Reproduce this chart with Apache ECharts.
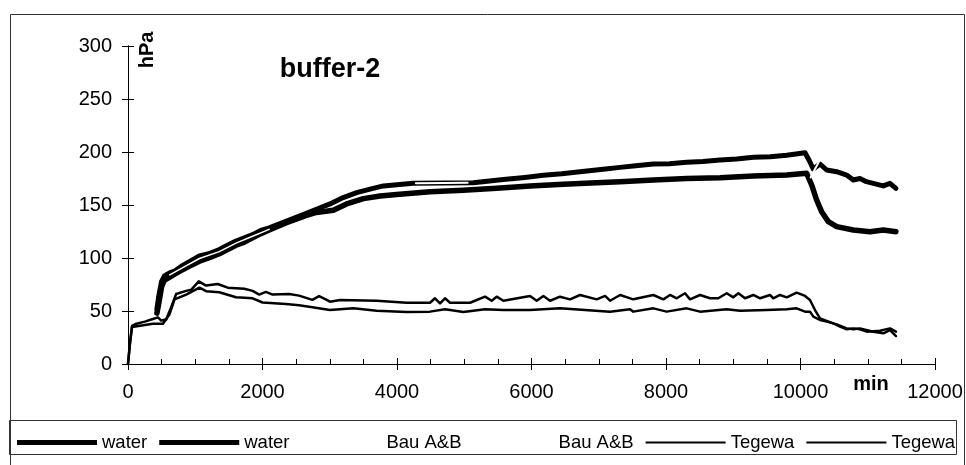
<!DOCTYPE html>
<html>
<head>
<meta charset="utf-8"/>
<title>buffer-2</title>
<script src="https://cdn.jsdelivr.net/npm/echarts@6/dist/echarts.min.js"></script>
<style>
  html, body { margin: 0; padding: 0; background: #fff; }
  #chart { width: 966px; height: 465px; }
</style>
</head>
<body>
<div id="chart"></div>
<script>
// axis ticks
var xTicks = [0, 2000, 4000, 6000, 8000, 10000, 12000];
var yTicks = [0, 50, 100, 150, 200, 250, 300];

// series values: [min, hPa]
var water1 = [[430,52],[460,65],[500,78],[540,83],[620,86],[700,88],[815,93],[900,96],[1062,102],[1200,104],[1358,108],[1480,112],[1606,116],[1730,119],[1853,122],[1975,126],[2100,128.5],[2347,134.5],[2643,142],[2940,149.5],[3004,151],[3200,157],[3400,161.6],[3600,165],[3797,168],[4243,170.5],[4700,170.8],[5135,171],[5581,174],[5900,176],[6176,178],[6450,179.5],[6721,181.4],[7100,184],[7316,185.5],[7550,187],[7811,188.7],[8050,189],[8307,190.3],[8550,191],[8803,192.5],[9050,193.5],[9299,195],[9550,195.5],[9795,197],[10067,199.3],[10130,192],[10190,184],[10290,188.7],[10389,183],[10538,181.4],[10686,178.3],[10785,173.6],[10884,175],[10980,172],[11082,170.4],[11231,168],[11330,170.4],[11419,165.7]];
var water2 = [[430,48],[460,58],[500,73],[540,79],[620,82],[700,85],[815,89],[900,92],[1062,97],[1200,100],[1358,104],[1480,108],[1606,112],[1730,115],[1853,119],[1975,123],[2100,126.5],[2347,133],[2643,140],[2800,143],[3053,145],[3250,151],[3500,156],[3750,158.5],[3995,160],[4491,162.6],[4986,164],[5482,165.7],[5978,168],[6473,169.5],[6969,171],[7316,172],[7811,173.6],[8307,175],[8803,175.8],[9299,177.4],[9795,178.3],[10092,179.9],[10166,168.9],[10240,154.7],[10314,143.7],[10414,134.3],[10538,129.6],[10785,126.4],[11033,124.8],[11231,126.4],[11419,124.8]];
var bau1 = [[620,84],[815,91],[1062,99.5],[1358,106],[1606,114],[1853,120.5],[2100,127]];
var bau2 = [[4280,170.5],[4700,170.8],[5050,171],[5100,'-'],[10150,176],[10300,194]];
var tegewa1 = [[0,0],[30,20],[60,36],[125,38],[250,40],[370,42.5],[445,44],[494,41],[568,42],[642,53.5],[716,66],[865,69],[939,70],[1052,78],[1161,74],[1334,75.5],[1482,72],[1606,71.5],[1729,71],[1853,69],[1951,65.5],[2050,68],[2149,65.5],[2396,66],[2544,64.5],[2742,60.5],[2841,64],[2940,61],[3004,58.8],[3153,60.4],[3698,59.7],[4144,57.8],[4491,57.8],[4565,62],[4640,57.2],[4714,62],[4788,57.8],[5086,57.8],[5309,63.5],[5408,59.7],[5482,63.5],[5582,59.7],[5978,64.2],[6077,59.7],[6176,64.2],[6276,59.7],[6424,63.5],[6573,61],[6722,65.1],[6970,61],[7094,64.2],[7168,59.7],[7317,65.1],[7514,61],[7812,65.1],[7960,61],[8060,65.1],[8159,62],[8283,66.7],[8357,61],[8506,65.1],[8654,62],[8778,62],[8902,66.7],[9001,62.9],[9076,66.7],[9175,62],[9299,65.1],[9398,62],[9547,65.1],[9596,62],[9695,65.1],[9795,62.9],[9943,67.3],[10067,64.2],[10141,60.4],[10216,50.9],[10290,43.1],[10488,38.4],[10587,35.2],[10687,32.7],[10786,33.6],[10885,32.7],[10984,30.5],[11182,31.4],[11331,33.6],[11420,30.5]];
var tegewa2 = [[0,0],[30,20],[60,35],[370,38],[519,38],[618,47],[692,61],[865,65.5],[1062,72],[1161,68.7],[1358,67.7],[1606,63],[1853,62],[2001,58],[2347,56.7],[2544,55.5],[2742,53.5],[3004,50.9],[3351,52.5],[3698,50.3],[4144,49.1],[4491,49.4],[4714,51.6],[4987,49.1],[5309,51.6],[5582,50.9],[5978,50.9],[6424,52.5],[7168,49.4],[7465,51.6],[7514,49.4],[7812,52.5],[8010,49.4],[8307,52.5],[8506,49.4],[8902,51.6],[9100,50.3],[9497,50.9],[9795,51.6],[9943,52.5],[10067,49.4],[10141,49.4],[10191,44.7],[10290,41.5],[10390,40],[10538,37.4],[10687,33.6],[10786,32.7],[10885,33.6],[11083,30.5],[11232,29],[11331,32],[11420,26.4]];

var FONT = '"Liberation Sans", Arial, sans-serif';
var chart = echarts.init(document.getElementById('chart'));

function xAxisDef(inside, labels) {
  return {
    type: 'value', min: xTicks[0], max: xTicks[xTicks.length - 1], interval: 2000,
    position: 'bottom',
    axisLine: { show: true, lineStyle: { color: '#000', width: 1 } },
    axisTick: { show: true, inside: inside, length: 6, lineStyle: { color: '#000' } },
    minorTick: { show: inside, splitNumber: 4, length: 5, lineStyle: { color: '#000' } },
    axisLabel: { show: labels, color: '#000', fontSize: 20, fontFamily: FONT, margin: 18,
                 formatter: function (v) { return String(v); } },
    splitLine: { show: false }
  };
}
function yAxisDef(inside, labels) {
  return {
    type: 'value', min: yTicks[0], max: yTicks[yTicks.length - 1], interval: 50,
    position: 'left',
    axisLine: { show: true, lineStyle: { color: '#000', width: 1 } },
    axisTick: { show: true, inside: inside, length: 6, lineStyle: { color: '#000' } },
    axisLabel: { show: labels, color: '#000', fontSize: 20, fontFamily: FONT, margin: 16 },
    splitLine: { show: false }
  };
}
function line(name, data, width, color) {
  return {
    name: name, type: 'line', data: data, symbol: 'none', smooth: false,
    xAxisIndex: 0, yAxisIndex: 0,
    lineStyle: { color: color, width: width, join: 'round', cap: 'round' },
    itemStyle: { color: color },
    emphasis: { disabled: true }
  };
}

var names = ['water', 'water\u200b', 'Bau A&B', 'Bau A&B\u200b', 'Tegewa', 'Tegewa\u200b'];
var thickIcon = 'path://M0,0 h80 v5 h-80 z';
var thinIcon = 'path://M0,0 h80 v2 h-80 z';

var option = {
  animation: false,
  backgroundColor: '#fff',
  grid: { left: 128, right: 31, top: 46, bottom: 101 },
  xAxis: [xAxisDef(false, true), xAxisDef(true, false)],
  yAxis: [yAxisDef(false, true), yAxisDef(true, false)],
  legend: {
    data: [
      { name: names[0], icon: thickIcon },
      { name: names[1], icon: thickIcon },
      { name: names[2], icon: thinIcon },
      { name: names[3], icon: thinIcon },
      { name: names[4], icon: thinIcon },
      { name: names[5], icon: thinIcon }
    ],
    left: 12, top: 428,
    itemWidth: 80, itemHeight: 18, itemGap: 12, symbolKeepAspect: true,
    textStyle: { color: '#000', fontSize: 18.5, fontFamily: FONT },
    selectedMode: false
  },
  graphic: [
    { type: 'rect', silent: true, shape: { x: 10.5, y: 14.5, width: 954, height: 470 }, style: { fill: null, stroke: '#333', lineWidth: 1 } },
    { type: 'rect', silent: true, shape: { x: 9.5, y: 420.5, width: 947, height: 34 }, style: { fill: null, stroke: '#333', lineWidth: 1 } },
    { type: 'text', x: 330, y: 70, style: { text: 'buffer-2', font: 'bold 27px ' + FONT, fill: '#000', textAlign: 'center', textVerticalAlign: 'middle' } },
    { type: 'text', x: 147, y: 50, rotation: Math.PI / 2, style: { text: 'hPa', font: 'bold 20px ' + FONT, fill: '#000', textAlign: 'center', textVerticalAlign: 'middle' } },
    { type: 'text', x: 871, y: 384, style: { text: 'min', font: 'bold 20px ' + FONT, fill: '#000', textAlign: 'center', textVerticalAlign: 'middle' } }
  ],
  series: [
    line(names[0], water1, 5, '#000'),
    line(names[1], water2, 5.5, '#000'),
    line(names[2], bau1, 1.5, '#fff'),
    line(names[3], bau2, 2, '#fff'),
    line(names[4], tegewa1, 2.5, '#000'),
    line(names[5], tegewa2, 2.5, '#000')
  ]
};
chart.setOption(option);
</script>
</body>
</html>
